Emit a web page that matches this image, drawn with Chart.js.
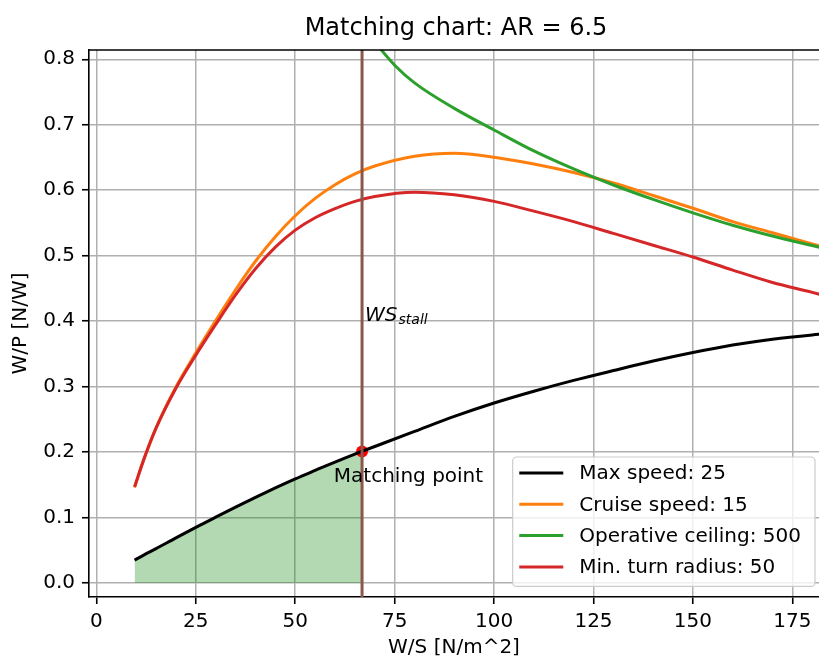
<!DOCTYPE html>
<html>
<head>
<meta charset="utf-8">
<title>Matching chart</title>
<script src="https://cdn.jsdelivr.net/npm/chart.js@4.4.1/dist/chart.umd.min.js"></script>
<style>
  html, body { margin: 0; padding: 0; overflow: hidden; background: #fff; }
  canvas { display: block; }
</style>
</head>
<body>
<canvas id="matchChart" width="819" height="661"></canvas>
<script>
// W/S points shared by max speed, cruise and turn curves
const wsValues = [9.6, 12, 15, 20, 25, 30, 35, 40, 45, 50, 55, 60, 65, 70, 80, 90, 100, 110, 120, 130, 140, 150, 160, 170, 180, 185];
const maxSpeedWP = [0.035, 0.043, 0.0525, 0.069, 0.085, 0.1005, 0.1158, 0.1308, 0.1452, 0.159, 0.172, 0.1848, 0.197, 0.2085, 0.2315, 0.2545, 0.275, 0.293, 0.3095, 0.3245, 0.339, 0.352, 0.3635, 0.3725, 0.379, 0.3815];
const cruiseWP = [0.146, 0.190, 0.237, 0.2995, 0.3515, 0.401, 0.448, 0.4915, 0.529, 0.561, 0.5875, 0.6085, 0.625, 0.637, 0.652, 0.6565, 0.6505, 0.640, 0.627, 0.611, 0.592, 0.5725, 0.552, 0.535, 0.518, 0.510];
const turnWP = [0.147, 0.190, 0.2365, 0.2975, 0.348, 0.395, 0.440, 0.480, 0.513, 0.539, 0.558, 0.572, 0.583, 0.5905, 0.597, 0.593, 0.583, 0.568, 0.552, 0.534, 0.516, 0.498, 0.478, 0.459, 0.444, 0.436];

// ceiling curve enters from above the plot, own W/S list
const ceilingWS = [70, 75, 80, 90, 100, 110, 120, 130, 140, 150, 160, 170, 180, 185];
const ceilingWP = [0.826, 0.791, 0.764, 0.725, 0.692, 0.660, 0.6325, 0.608, 0.586, 0.5655, 0.5465, 0.530, 0.5155, 0.5085];

const stallWS = 66.8;
const matchWS = 66.8;
const matchWP = 0.201;

const xTicks = [0, 25, 50, 75, 100, 125, 150, 175];
const yTicks = [0.0, 0.1, 0.2, 0.3, 0.4, 0.5, 0.6, 0.7, 0.8];

// the original axes run a few px past the right edge of the picture
const X_MIN = -1.86, X_MAX = 181.7;
const Y_MIN = -0.0214, Y_MAX = 0.8142;
const HIDDEN_RIGHT = 4;

const pts = (xs, ys) => xs.map((x, i) => ({ x: x, y: ys[i] }));

// fill under max speed curve up to the matching point
const fillPts = pts(wsValues, maxSpeedWP).filter(p => p.x < matchWS).concat([{ x: matchWS, y: matchWP }]);

Chart.defaults.font.family = '"DejaVu Sans", sans-serif';
Chart.defaults.font.size = 20;
Chart.defaults.color = "#000";

const textPlugin = {
  id: "extras",
  afterDraw(chart) {
    const ctx = chart.ctx;
    const area = chart.chartArea;
    const axRight = area.right + HIDDEN_RIGHT;
    const sx = chart.scales.x, sy = chart.scales.y;
    ctx.save();

    // top spine
    ctx.strokeStyle = "#000";
    ctx.lineWidth = 1.6;
    ctx.beginPath();
    ctx.moveTo(area.left, area.top);
    ctx.lineTo(area.right, area.top);
    ctx.stroke();

    // title
    ctx.fillStyle = "#000";
    ctx.textAlign = "center";
    ctx.textBaseline = "alphabetic";
    ctx.font = '24px "DejaVu Sans"';
    ctx.fillText("Matching chart: AR = 6.5", (area.left + axRight) / 2, 35);

    // WS_stall label
    ctx.textAlign = "left";
    const wx = sx.getPixelForValue(stallWS) + 3;
    const wy = sy.getPixelForValue(0.4);
    ctx.font = 'italic 20px "DejaVu Sans"';
    ctx.fillText("WS", wx, wy);
    const ww = ctx.measureText("WS").width;
    ctx.font = 'italic 14px "DejaVu Sans"';
    ctx.fillText("stall", wx + ww + 1, wy + 3);

    // matching point label
    ctx.font = '20px "DejaVu Sans"';
    ctx.fillText("Matching point", sx.getPixelForValue(59.7), sy.getPixelForValue(0.154));

    // legend, lower right
    const sets = chart.data.datasets.filter(d => d.inLegend);
    const textW = Math.max(...sets.map(d => ctx.measureText(d.label).width));
    const rowH = 31.3;
    const boxW = 6.6 + 44 + 16 + textW + 14;
    const boxH = rowH * sets.length + 4.2;
    const right = axRight - 8, bottom = area.bottom - 10.6;
    const left = right - boxW, top = bottom - boxH;
    ctx.beginPath();
    ctx.roundRect(left, top, boxW, boxH, 4);
    ctx.fillStyle = "rgba(255,255,255,0.8)";
    ctx.fill();
    ctx.strokeStyle = "#cccccc";
    ctx.lineWidth = 1.2;
    ctx.stroke();
    ctx.textBaseline = "middle";
    sets.forEach((d, i) => {
      const cy = top + 16 + i * rowH;
      ctx.strokeStyle = d.borderColor;
      ctx.lineWidth = 3;
      ctx.beginPath();
      ctx.moveTo(left + 6.6, cy);
      ctx.lineTo(left + 50.6, cy);
      ctx.stroke();
      ctx.fillStyle = "#000";
      ctx.fillText(d.label, left + 66.6, cy + 1);
    });
    ctx.restore();
  }
};

const curve = (label, xs, ys, color, order) => ({
  label: label,
  inLegend: true,
  data: pts(xs, ys),
  borderColor: color,
  borderWidth: 3,
  pointRadius: 0,
  cubicInterpolationMode: "monotone",
  fill: false,
  clip: 0,
  order: order
});

new Chart(document.getElementById("matchChart"), {
  type: "line",
  data: {
    datasets: [
      {
        label: "stall",
        data: [{ x: stallWS, y: Y_MIN }, { x: stallWS, y: Y_MAX }],
        borderColor: "#8c564b",
        borderWidth: 3,
        pointRadius: 0,
        tension: 0,
        clip: 0,
        order: 0
      },
      curve("Max speed: 25", wsValues, maxSpeedWP, "#000000", 4),
      curve("Cruise speed: 15", wsValues, cruiseWP, "#ff7f0e", 3),
      curve("Operative ceiling: 500", ceilingWS, ceilingWP, "#2ca02c", 2),
      curve("Min. turn radius: 50", wsValues, turnWP, "#d62728", 1),
      {
        label: "match",
        data: [{ x: matchWS, y: matchWP }],
        showLine: false,
        pointRadius: 6,
        pointBackgroundColor: "#ff0000",
        pointBorderWidth: 0,
        clip: 0,
        order: 5
      },
      {
        label: "feasible",
        data: fillPts,
        borderWidth: 0,
        pointRadius: 0,
        cubicInterpolationMode: "monotone",
        fill: "origin",
        backgroundColor: "rgba(0,128,0,0.3)",
        clip: 0,
        order: 6
      }
    ]
  },
  options: {
    responsive: false,
    animation: false,
    devicePixelRatio: 1,
    // no auto padding for the point overflow, keep the axes where they were measured
    layout: { autoPadding: false, padding: { top: 50, right: 0, bottom: 0, left: 0 } },
    plugins: {
      legend: { display: false },
      tooltip: { enabled: false },
      title: { display: false }
    },
    scales: {
      x: {
        type: "linear",
        min: X_MIN,
        max: X_MAX,
        afterBuildTicks: s => { s.ticks = xTicks.map(v => ({ value: v })); },
        afterFit: s => { s.height = 64; },
        grid: { color: "#b0b0b0", lineWidth: 1.5, tickColor: "#000", tickLength: 7, tickWidth: 1.6 },
        border: { color: "#000", width: 1.6 },
        ticks: { padding: 6, maxRotation: 0, autoSkip: false, color: "#000", callback: v => String(v) },
        title: { display: true, text: "W/S [N/m^2]", color: "#000", padding: { top: 0, bottom: 1 } }
      },
      y: {
        type: "linear",
        min: Y_MIN,
        max: Y_MAX,
        afterBuildTicks: s => { s.ticks = yTicks.map(v => ({ value: v })); },
        afterFit: s => { s.width = 89; },
        grid: { color: "#b0b0b0", lineWidth: 1.5, tickColor: "#000", tickLength: 7, tickWidth: 1.6 },
        border: { color: "#000", width: 1.6 },
        ticks: { padding: 7, color: "#000", callback: v => v.toFixed(1) },
        title: { display: true, text: "W/P [N/W]", color: "#000", padding: { top: 9, bottom: 0 } }
      }
    }
  },
  plugins: [textPlugin]
});
</script>
</body>
</html>
